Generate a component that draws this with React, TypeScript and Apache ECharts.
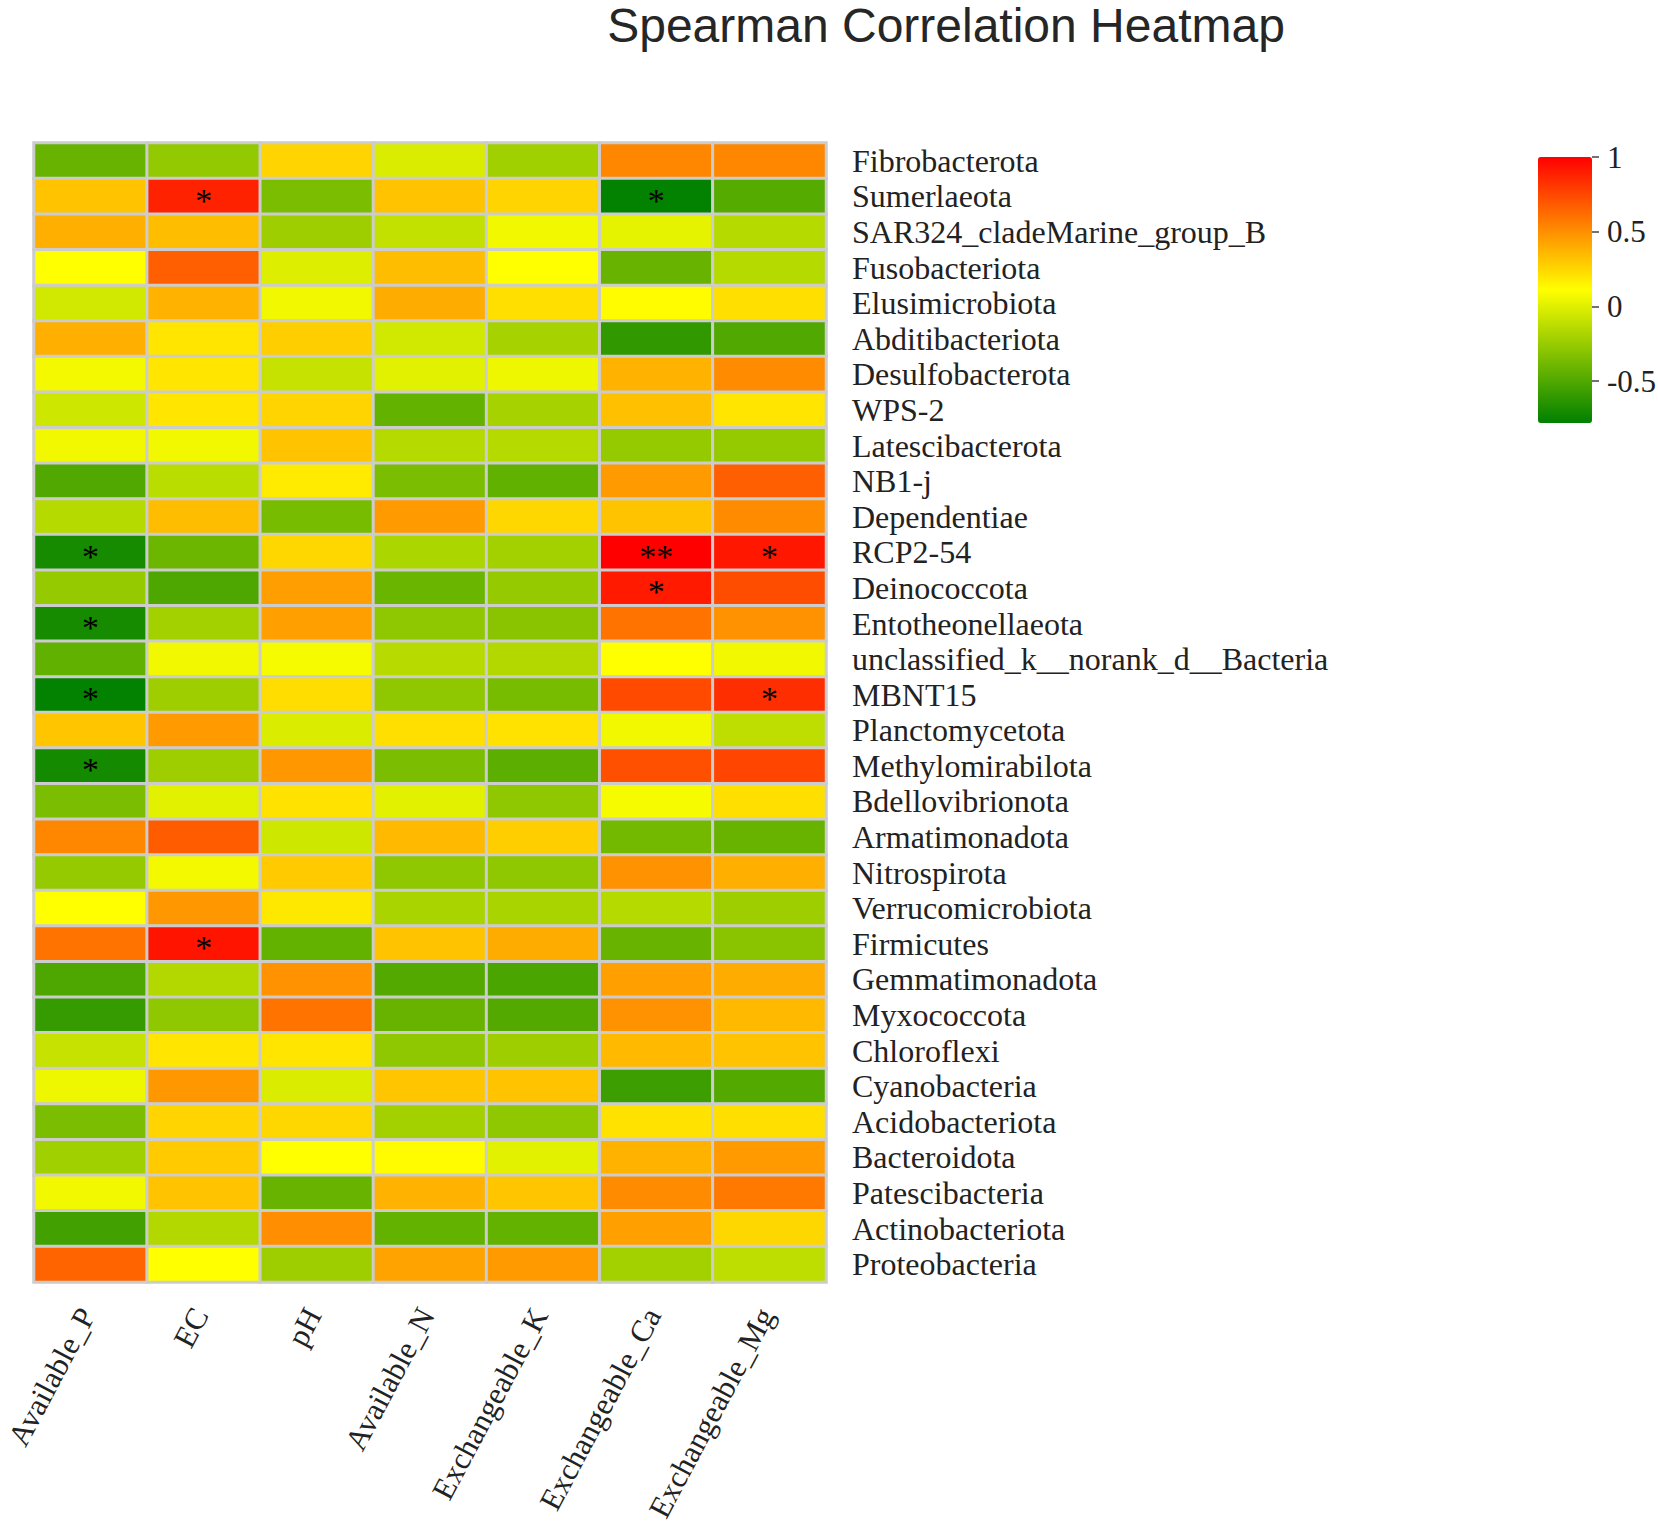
import React, { useEffect, useRef } from "react";
import * as echarts from "echarts";

const taxa = [
  "Fibrobacterota",
  "Sumerlaeota",
  "SAR324_cladeMarine_group_B",
  "Fusobacteriota",
  "Elusimicrobiota",
  "Abditibacteriota",
  "Desulfobacterota",
  "WPS-2",
  "Latescibacterota",
  "NB1-j",
  "Dependentiae",
  "RCP2-54",
  "Deinococcota",
  "Entotheonellaeota",
  "unclassified_k__norank_d__Bacteria",
  "MBNT15",
  "Planctomycetota",
  "Methylomirabilota",
  "Bdellovibrionota",
  "Armatimonadota",
  "Nitrospirota",
  "Verrucomicrobiota",
  "Firmicutes",
  "Gemmatimonadota",
  "Myxococcota",
  "Chloroflexi",
  "Cyanobacteria",
  "Acidobacteriota",
  "Bacteroidota",
  "Patescibacteria",
  "Actinobacteriota",
  "Proteobacteria",
];

const factors = [
  "Available_P",
  "EC",
  "pH",
  "Available_N",
  "Exchangeable_K",
  "Exchangeable_Ca",
  "Exchangeable_Mg",
];

// Spearman correlation values, one array per soil factor (rows in taxa order)
const availableP = [-0.42, 0.32, 0.39, 0.11, -0.05, 0.39, 0.07, -0.06, 0.06, -0.5, -0.15, -0.7, -0.26, -0.7, -0.44, -0.77, 0.31, -0.71, -0.35, 0.53, -0.26, 0.11, 0.6, -0.51, -0.59, -0.09, 0.05, -0.35, -0.22, 0.06, -0.55, 0.65];
const ec = [-0.27, 0.88, 0.34, 0.67, 0.38, 0.2, 0.2, 0.2, 0.06, -0.13, 0.34, -0.4, -0.51, -0.21, 0.06, -0.23, 0.46, -0.23, 0.01, 0.68, 0.07, 0.47, 0.93, -0.16, -0.28, 0.2, 0.47, 0.26, 0.29, 0.32, -0.16, 0.11];
const ph = [0.26, -0.35, -0.23, -0.01, 0.06, 0.28, -0.09, 0.26, 0.32, 0.18, -0.36, 0.25, 0.45, 0.44, 0.08, 0.23, -0.02, 0.47, 0.21, -0.06, 0.29, 0.19, -0.43, 0.49, 0.6, 0.2, -0.02, 0.25, 0.11, -0.42, 0.5, -0.23];
const availableN = [-0.02, 0.32, -0.1, 0.34, 0.4, -0.05, 0.01, -0.43, -0.15, -0.35, 0.46, -0.18, -0.41, -0.28, -0.14, -0.28, 0.22, -0.35, 0.01, 0.35, -0.28, -0.19, 0.32, -0.49, -0.42, -0.28, 0.31, -0.21, 0.12, 0.38, -0.43, 0.43];
const exchangeableK = [-0.22, 0.26, 0.06, 0.11, 0.22, -0.2, 0.05, -0.2, -0.15, -0.44, 0.25, -0.21, -0.26, -0.3, -0.16, -0.36, 0.21, -0.46, -0.28, 0.28, -0.28, -0.19, 0.4, -0.52, -0.49, -0.23, 0.32, -0.28, 0.01, 0.31, -0.43, 0.46];
const exchangeableCa = [0.53, -0.77, 0.02, -0.42, 0.12, -0.61, 0.38, 0.33, -0.26, 0.46, 0.32, 1.0, 0.91, 0.6, 0.11, 0.74, 0.06, 0.72, 0.08, -0.38, 0.49, -0.15, -0.42, 0.44, 0.49, 0.35, -0.57, 0.21, 0.38, 0.51, 0.44, -0.21];
const exchangeableMg = [0.53, -0.48, -0.15, -0.15, 0.22, -0.5, 0.51, 0.2, -0.26, 0.67, 0.51, 0.92, 0.73, 0.49, 0.06, 0.84, -0.12, 0.76, 0.22, -0.42, 0.39, -0.23, -0.3, 0.4, 0.35, 0.32, -0.49, 0.22, 0.46, 0.58, 0.25, -0.12];

// significance marks: [taxon index, factor index, mark]
const significance: [number, number, string][] = [
  [1, 1, "*"],
  [1, 5, "*"],
  [11, 0, "*"],
  [11, 5, "**"],
  [11, 6, "*"],
  [12, 5, "*"],
  [13, 0, "*"],
  [15, 0, "*"],
  [15, 6, "*"],
  [17, 0, "*"],
  [22, 1, "*"],
];

const colorbarTicks = [1, 0.5, 0, -0.5];
const colorMin = -0.78;
const colorMax = 1.0;

export default function App() {
  const ref = useRef<HTMLDivElement>(null);

  useEffect(() => {
    if (!ref.current) return;
    const chart = echarts.init(ref.current, undefined, { renderer: "svg" });

    const columns = [availableP, ec, ph, availableN, exchangeableK, exchangeableCa, exchangeableMg];
    const marks: Record<string, string> = {};
    significance.forEach(([r, c, m]) => {
      marks[r + "_" + c] = m;
    });
    const data: number[][] = [];
    columns.forEach((col, c) => {
      col.forEach((v, r) => {
        data.push([c, r, v]);
      });
    });

    const serif = "'Liberation Serif', 'Times New Roman', serif";

    chart.setOption({
      animation: false,
      backgroundColor: "#ffffff",
      graphic: [
        {
          type: "text",
          x: 946,
          y: 25,
          style: {
            text: "Spearman Correlation Heatmap",
            fontSize: 48,
            lineHeight: 40,
            fontFamily: "'Liberation Sans', Arial, sans-serif",
            fill: "#262626",
            align: "center",
            verticalAlign: "middle",
          },
        },
      ],
      grid: [
        { left: 34, top: 143, width: 792, height: 1139, containLabel: false, outerBoundsMode: "none" },
        { left: 1538, top: 157, width: 54, height: 266, containLabel: false, outerBoundsMode: "none", show: false },
      ],
      xAxis: [
        {
          type: "category",
          data: factors,
          gridIndex: 0,
          position: "bottom",
          axisLine: { show: false },
          axisTick: { show: false },
          splitLine: { show: false },
          axisLabel: {
            interval: 0,
            rotate: 62,
            margin: 30,
            verticalAlign: "bottom",
            lineHeight: 8,
            fontFamily: serif,
            fontSize: 31,
            color: "#222222",
          },
        },
        { type: "value", gridIndex: 1, show: false, min: 0, max: 1 },
      ],
      yAxis: [
        {
          type: "category",
          data: taxa,
          gridIndex: 0,
          inverse: true,
          position: "right",
          axisLine: { show: false },
          axisTick: { show: false },
          splitLine: { show: false },
          axisLabel: {
            interval: 0,
            margin: 26,
            fontFamily: serif,
            fontSize: 32,
            color: "#222222",
          },
        },
        {
          type: "value",
          gridIndex: 1,
          position: "right",
          min: colorMin,
          max: colorMax,
          axisLine: { show: false, onZero: false },
          splitLine: { show: false },
          axisTick: {
            show: true,
            inside: false,
            length: 7,
            customValues: colorbarTicks,
            lineStyle: { color: "#444444", width: 1.5 },
          },
          axisLabel: {
            margin: 15,
            customValues: colorbarTicks,
            fontFamily: serif,
            fontSize: 31,
            color: "#222222",
            formatter: (v: number) =>
              colorbarTicks.some((t) => Math.abs(t - v) < 1e-9) ? String(v) : "",
          },
        },
      ],
      visualMap: {
        type: "continuous",
        min: colorMin,
        max: colorMax,
        seriesIndex: 0,
        dimension: 2,
        calculable: false,
        hoverLink: false,
        indicatorSize: 0,
        orient: "vertical",
        left: 1538,
        top: 157,
        itemWidth: 54,
        itemHeight: 266,
        padding: 0,
        text: null,
        inRange: { color: ["#008000", "#ffff00", "#ff0000"] },
      },
      series: [
        {
          type: "heatmap",
          xAxisIndex: 0,
          yAxisIndex: 0,
          data,
          itemStyle: { borderColor: "#cccccc", borderWidth: 3 },
          emphasis: { disabled: true },
          label: {
            show: true,
            color: "#000000",
            fontFamily: serif,
            fontSize: 34,
            offset: [0, 4],
            formatter: (p: any) => marks[p.data[1] + "_" + p.data[0]] || "",
          },
        },
      ],
    });

    return () => {
      chart.dispose();
    };
  }, []);

  return (
    <div
      ref={ref}
      style={{ position: "absolute", left: 0, top: 0, width: 1658, height: 1534 }}
    />
  );
}
